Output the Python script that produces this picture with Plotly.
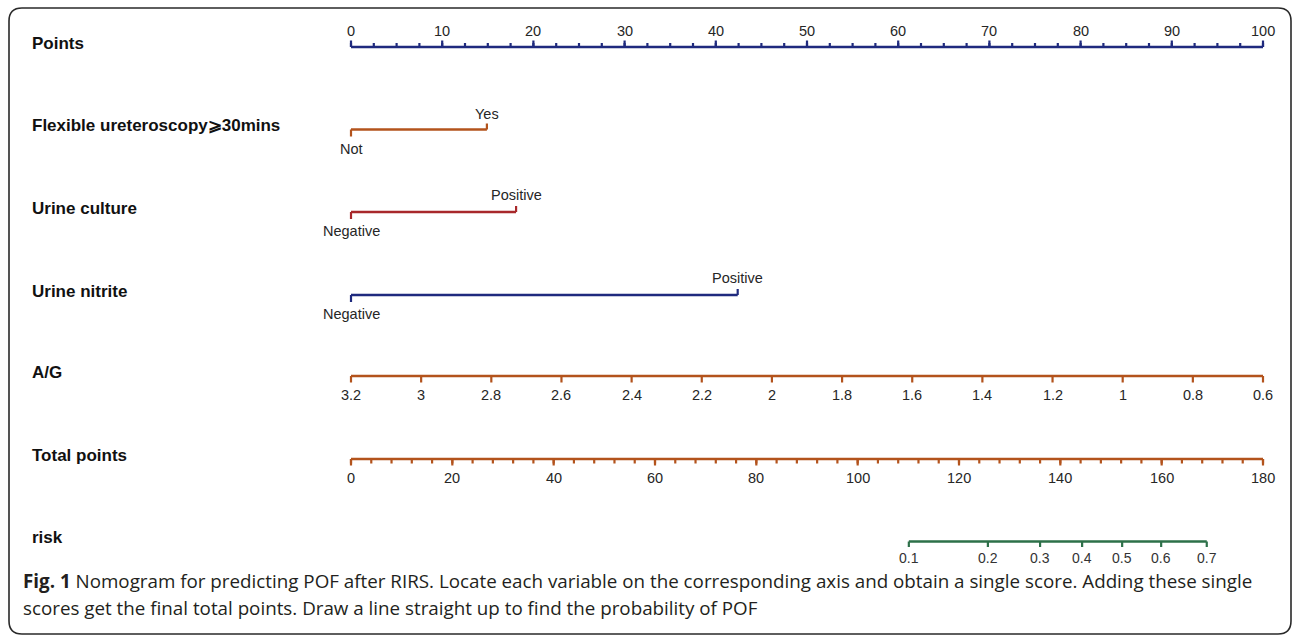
import plotly.graph_objects as go

# ---------------- data ----------------
points_major = [0, 10, 20, 30, 40, 50, 60, 70, 80, 90, 100]
points_minor = [i * 2.5 for i in range(41)]

flex_labels = ["Not", "Yes"]
flex_points = [0, 14.9]

culture_labels = ["Negative", "Positive"]
culture_points = [0, 18.1]

nitrite_labels = ["Negative", "Positive"]
nitrite_points = [0, 42.4]

ag_values = [3.2, 3.0, 2.8, 2.6, 2.4, 2.2, 2.0, 1.8, 1.6, 1.4, 1.2, 1.0, 0.8, 0.6]
ag_labels = ["3.2", "3", "2.8", "2.6", "2.4", "2.2", "2", "1.8", "1.6", "1.4", "1.2", "1", "0.8", "0.6"]
ag_range = [3.2, 0.6]          # A/G value at 0 points and at 100 points

total_major = [0, 20, 40, 60, 80, 100, 120, 140, 160, 180]
total_minor = list(range(0, 181, 4))
total_max = 180

risk_values = [0.1, 0.2, 0.3, 0.4, 0.5, 0.6, 0.7]
risk_labels = ["0.1", "0.2", "0.3", "0.4", "0.5", "0.6", "0.7"]
risk_total_points = [110.1, 125.7, 136.0, 144.3, 152.2, 159.9, 168.9]

row_names = ["Points", "Flexible ureteroscopy⩾30mins", "Urine culture", "Urine nitrite",
             "A/G", "Total points", "risk"]

caption_1 = ("<b>Fig. 1</b> Nomogram for predicting POF after RIRS. Locate each variable on the "
             "corresponding axis and obtain a single score. Adding these single")
caption_2 = "scores get the final total points. Draw a line straight up to find the probability of POF"

# ---------------- layout / style ----------------
W, H = 1292, 637
PX0, PX100 = 351, 1263
SCALE = (PX100 - PX0) / 100.0
row_y = [47, 129.5, 212, 295, 376, 459, 541.5]

NAVY = "#1f2a7e"
BROWN = "#b3531c"
RED = "#a8282b"
GREEN = "#2d7049"
LW = 2.6
TICK_FONT = dict(family="Liberation Sans, Arial", size=14.5, color="#262626")
ROW_FONT = dict(family="Liberation Sans, Arial", size=17, color="#111111")

fig = go.Figure()


def draw_axis(x_start, x_end, y, color):
    fig.add_trace(go.Scatter(x=[x_start, x_end], y=[y, y], mode="lines",
                             line=dict(color=color, width=LW), hoverinfo="skip",
                             showlegend=False))


def draw_ticks(xs, y, length, color):
    tx, ty = [], []
    for x in xs:
        tx += [x, x, None]
        ty += [y, y + length, None]
    fig.add_trace(go.Scatter(x=tx, y=ty, mode="lines",
                             line=dict(color=color, width=2.2), hoverinfo="skip",
                             showlegend=False))


def add_labels(xs, texts, y, yshift_px, font=TICK_FONT):
    for x, t in zip(xs, texts):
        fig.add_annotation(x=x, y=y + yshift_px, text=t, showarrow=False,
                           xanchor="center", yanchor="middle", font=font)


# Points
y = row_y[0]
draw_axis(0, 100, y, NAVY)
draw_ticks(points_minor, y, -4, NAVY)
draw_ticks(points_major, y, -6.5, NAVY)
add_labels(points_major, [str(v) for v in points_major], y, -16)

# Flexible ureteroscopy
y = row_y[1]
draw_axis(flex_points[0], flex_points[1], y, BROWN)
draw_ticks([flex_points[0]], y, 7, BROWN)
draw_ticks([flex_points[1]], y, -6, BROWN)
add_labels([flex_points[0]], [flex_labels[0]], y, 19)
add_labels([flex_points[1]], [flex_labels[1]], y, -16)

# Urine culture
y = row_y[2]
draw_axis(culture_points[0], culture_points[1], y, RED)
draw_ticks([culture_points[0]], y, 7, RED)
draw_ticks([culture_points[1]], y, -6, RED)
add_labels([culture_points[0]], [culture_labels[0]], y, 19)
add_labels([culture_points[1]], [culture_labels[1]], y, -17)

# Urine nitrite
y = row_y[3]
draw_axis(nitrite_points[0], nitrite_points[1], y, NAVY)
draw_ticks([nitrite_points[0]], y, 7, NAVY)
draw_ticks([nitrite_points[1]], y, -6, NAVY)
add_labels([nitrite_points[0]], [nitrite_labels[0]], y, 19)
add_labels([nitrite_points[1]], [nitrite_labels[1]], y, -17)

# A/G
y = row_y[4]
ag_x = [(ag_range[0] - v) / (ag_range[0] - ag_range[1]) * 100 for v in ag_values]
draw_axis(0, 100, y, BROWN)
draw_ticks(ag_x, y, 6.5, BROWN)
add_labels(ag_x, ag_labels, y, 19)

# Total points
y = row_y[5]
tot_to_x = lambda t: t / total_max * 100
draw_axis(0, 100, y, BROWN)
draw_ticks([tot_to_x(t) for t in total_minor], y, 4.5, BROWN)
draw_ticks([tot_to_x(t) for t in total_major], y, 6.5, BROWN)
add_labels([tot_to_x(t) for t in total_major], [str(t) for t in total_major], y, 19)

# risk
y = row_y[6]
risk_x = [tot_to_x(t) for t in risk_total_points]
draw_axis(risk_x[0], risk_x[-1], y, GREEN)
draw_ticks(risk_x, y, 5.5, GREEN)
add_labels(risk_x, risk_labels, y, 16,
           font=dict(family="Liberation Sans, Arial", size=14, color="#333333"))

# row names
for name, yy in zip(row_names, row_y):
    fig.add_annotation(xref="paper", x=30 / W, y=yy - 4, text="<b>%s</b>" % name,
                       showarrow=False, xanchor="left", yanchor="middle", font=ROW_FONT)

# caption
CAP_FONT = dict(family="Open Sans", size=18.8, color="#231f20")
fig.add_annotation(xref="paper", x=21 / W, y=581, text=caption_1, showarrow=False,
                   xanchor="left", yanchor="middle", font=CAP_FONT)
fig.add_annotation(xref="paper", x=21 / W, y=608, text=caption_2, showarrow=False,
                   xanchor="left", yanchor="middle", font=CAP_FONT)

# rounded frame (paper coordinates)
L, T, R, B, r = 9, 8, 1291, 634, 13
fx = lambda p: p / W
fy = lambda p: 1 - p / H
path = (f"M {fx(L)},{fy(T + r)} Q {fx(L)},{fy(T)} {fx(L + r)},{fy(T)} "
        f"L {fx(R - r)},{fy(T)} Q {fx(R)},{fy(T)} {fx(R)},{fy(T + r)} "
        f"L {fx(R)},{fy(B - r)} Q {fx(R)},{fy(B)} {fx(R - r)},{fy(B)} "
        f"L {fx(L + r)},{fy(B)} Q {fx(L)},{fy(B)} {fx(L)},{fy(B - r)} Z")
fig.add_shape(type="path", path=path, xref="paper", yref="paper",
              line=dict(color="#2a2a2a", width=1.6))

fig.update_layout(
    width=W, height=H,
    margin=dict(l=0, r=0, t=0, b=0),
    paper_bgcolor="white", plot_bgcolor="white",
    xaxis=dict(range=[-PX0 / SCALE, (W - PX0) / SCALE], visible=False, fixedrange=True),
    yaxis=dict(range=[H, 0], visible=False, fixedrange=True),
    showlegend=False,
)

fig.write_html("out.html", config={"displayModeBar": False},
               post_script="document.body.style.margin='0';document.body.style.overflow='hidden';")
